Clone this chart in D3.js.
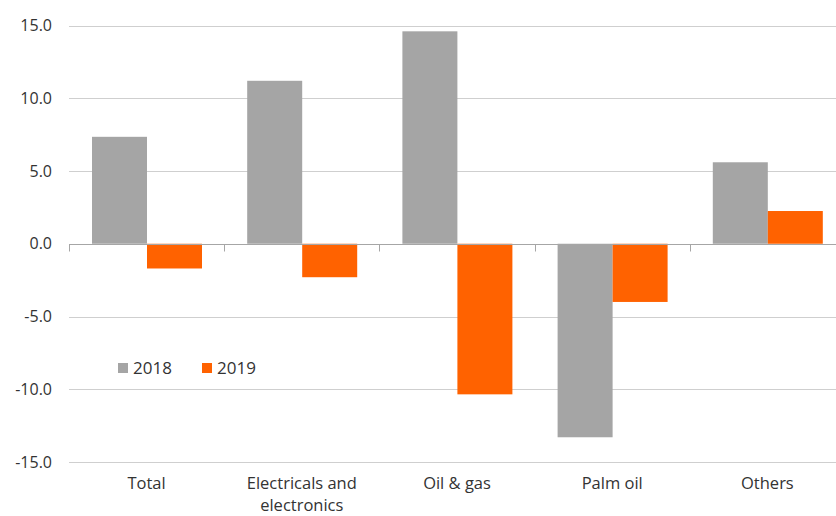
<!DOCTYPE html>
<html>
<head>
<meta charset="utf-8">
<script src="https://cdn.jsdelivr.net/npm/d3@7"></script>
<style>
  body { margin: 0; background: #fff; }
  svg text { font-family: "Open Sans", "Noto Sans", sans-serif; fill: #333; }
</style>
</head>
<body>
<svg id="chart" width="836" height="516"></svg>
<script>
var categories = ["Total", "Electricals and electronics", "Oil & gas", "Palm oil", "Others"];
var seriesNames = ["2018", "2019"];
var values2018 = [7.35, 11.2, 14.6, -13.3, 5.6];
var values2019 = [-1.7, -2.3, -10.35, -4.0, 2.25];
var yTicks = [-15, -10, -5, 0, 5, 10, 15];
var colors = ["#a5a5a5", "#ff6200"];

var svg = d3.select("#chart");

var x = d3.scaleBand().domain(categories).range([69, 845]).padding(0);
var y = d3.scaleLinear().domain([-15, 15]).range([462, 25.5]);
var x1 = d3.scaleBand().domain(seriesNames).range([23, 133]).padding(0);

// gridlines
svg.append("g")
  .selectAll("line")
  .data(yTicks.filter(function(d) { return d !== 0; }))
  .enter()
  .append("line")
  .attr("x1", 69)
  .attr("x2", 836)
  .attr("y1", function(d) { return Math.round(y(d)) + 0.5; })
  .attr("y2", function(d) { return Math.round(y(d)) + 0.5; })
  .attr("stroke", "#cfcfcf")
  .attr("stroke-width", 1);

// y tick labels (plain hyphen for negatives, like the original)
svg.append("g")
  .selectAll("text")
  .data(yTicks)
  .enter()
  .append("text")
  .attr("x", 52)
  .attr("y", function(d) { return y(d); })
  .attr("dy", "0.35em")
  .attr("text-anchor", "end")
  .style("font-size", "16px")
  .text(function(d) { return d3.format(".1f")(d).replace("\u2212", "-"); });

// bars
var rows = categories.map(function(c, i) {
  return { cat: c, vals: [values2018[i], values2019[i]] };
});
var groups = svg.append("g")
  .selectAll("g")
  .data(rows)
  .enter()
  .append("g")
  .attr("transform", function(d) { return "translate(" + x(d.cat) + ",0)"; });

groups.selectAll("rect")
  .data(function(d) {
    return d.vals.map(function(v, j) { return { key: seriesNames[j], v: v, j: j }; });
  })
  .enter()
  .append("rect")
  .attr("x", function(d) { return x1(d.key); })
  .attr("width", x1.bandwidth())
  .attr("y", function(d) { return y(Math.max(0, d.v)); })
  .attr("height", function(d) { return Math.abs(y(d.v) - y(0)); })
  .attr("fill", function(d) { return colors[d.j]; });

// zero axis with ticks between categories
var axisY = Math.round(y(0)) + 0.5;
svg.append("line")
  .attr("x1", 69).attr("x2", 836)
  .attr("y1", axisY).attr("y2", axisY)
  .attr("stroke", "#a6a6a6");
svg.append("g")
  .selectAll("line")
  .data(categories)
  .enter()
  .append("line")
  .attr("x1", function(d) { return Math.round(x(d)) + 0.5; })
  .attr("x2", function(d) { return Math.round(x(d)) + 0.5; })
  .attr("y1", axisY)
  .attr("y2", axisY + 7)
  .attr("stroke", "#a6a6a6");

// category labels, one text per line
var labelLines = {
  "Electricals and electronics": ["Electricals and", "electronics"]
};
var lineData = [];
categories.forEach(function(c) {
  (labelLines[c] || [c]).forEach(function(l, i) {
    lineData.push({ cat: c, text: l, row: i });
  });
});
svg.append("g")
  .selectAll("text")
  .data(lineData)
  .enter()
  .append("text")
  .attr("x", function(d) { return x(d.cat) + x.bandwidth() / 2; })
  .attr("y", function(d) { return 489 + d.row * 22; })
  .attr("text-anchor", "middle")
  .style("font-size", "16.5px")
  .text(function(d) { return d.text; });

// legend
var legend = svg.append("g").attr("transform", "translate(118,363)");
var legendX = [0, 84];
seriesNames.forEach(function(s, i) {
  legend.append("rect")
    .attr("x", legendX[i])
    .attr("y", 0)
    .attr("width", 10)
    .attr("height", 10)
    .attr("fill", colors[i]);
  legend.append("text")
    .attr("x", legendX[i] + 15)
    .attr("y", 5)
    .attr("dy", "0.35em")
    .style("font-size", "17px")
    .text(s);
});
</script>
</body>
</html>
